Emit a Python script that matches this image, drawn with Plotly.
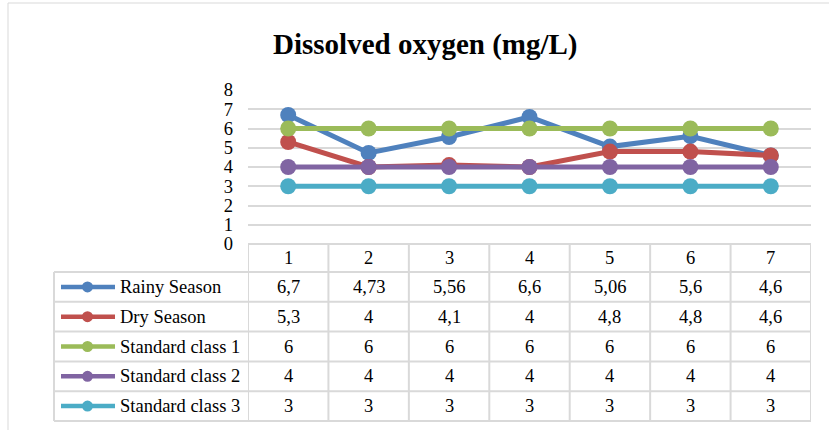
import plotly.graph_objects as go

# ---- data ----
categories = ["1", "2", "3", "4", "5", "6", "7"]
series_names = ["Rainy Season", "Dry Season", "Standard class 1", "Standard class 2", "Standard class 3"]
rainy = [6.7, 4.73, 5.56, 6.6, 5.06, 5.6, 4.6]
dry = [5.3, 4, 4.1, 4, 4.8, 4.8, 4.6]
std1 = [6, 6, 6, 6, 6, 6, 6]
std2 = [4, 4, 4, 4, 4, 4, 4]
std3 = [3, 3, 3, 3, 3, 3, 3]
series_values = [rainy, dry, std1, std2, std3]
colors = ["#4F81BD", "#C0504D", "#9BBB59", "#8064A2", "#4BACC6"]
y_ticks = [0, 1, 2, 3, 4, 5, 6, 7, 8]
title = "Dissolved oxygen (mg/L)"

W, H = 829, 430
FONT = "Liberation Serif, Times New Roman, serif"
GRID = "#d9d9d9"
FS = 18.5

def px(x):
    return x / W

def py(y):
    return 1 - y / H

plot_left, plot_right = 248, 811
plot_top, plot_bottom = 90, 244
header_bottom = 272
row_h = 29.8
table_left = 54

xs = list(range(1, len(categories) + 1))

fig = go.Figure()
for name, vals, col in zip(series_names, series_values, colors):
    fig.add_trace(go.Scatter(
        x=xs, y=vals, mode="lines+markers", name=name,
        line=dict(color=col, width=5),
        marker=dict(color=col, size=16, symbol="circle"),
        showlegend=False, hoverinfo="skip",
    ))

shapes = []
annotations = []

# chart border
shapes.append(dict(type="rect", xref="paper", yref="paper",
                   x0=px(8), x1=1.02, y0=-0.05, y1=py(3),
                   line=dict(color=GRID, width=1), layer="below"))

# table horizontal lines
row_edges = [header_bottom + row_h * i for i in range(len(series_names) + 1)]
shapes.append(dict(type="line", xref="x", yref="paper", x0=0.5, x1=len(categories) + 0.5,
                   y0=py(plot_bottom), y1=py(plot_bottom), line=dict(color=GRID, width=2)))
for ye in row_edges:
    shapes.append(dict(type="line", xref="paper", yref="paper", x0=px(table_left), x1=px(plot_right),
                       y0=py(ye), y1=py(ye), line=dict(color=GRID, width=2)))
# vertical lines
for i in range(len(categories) + 1):
    shapes.append(dict(type="line", xref="x", yref="paper", x0=0.5 + i, x1=0.5 + i,
                       y0=py(plot_bottom), y1=py(row_edges[-1]), line=dict(color=GRID, width=2)))
shapes.append(dict(type="line", xref="paper", yref="paper", x0=px(table_left), x1=px(table_left),
                   y0=py(row_edges[0]), y1=py(row_edges[-1]), line=dict(color=GRID, width=2)))

# header labels
for xv, c in zip(xs, categories):
    annotations.append(dict(x=xv, y=py((plot_bottom + header_bottom) / 2), xref="x", yref="paper",
                            text=c, showarrow=False, xanchor="center", yanchor="middle",
                            font=dict(family=FONT, size=FS, color="#000")))

def fmt(v):
    return f"{v:g}".replace(".", ",")

for r, (name, vals, col) in enumerate(zip(series_names, series_values, colors)):
    yc = row_edges[r] + row_h / 2
    # legend swatch
    shapes.append(dict(type="line", xref="paper", yref="paper", x0=px(61), x1=px(115),
                       y0=py(yc), y1=py(yc), line=dict(color=col, width=4.5)))
    shapes.append(dict(type="circle", xref="paper", yref="paper", x0=px(82), x1=px(93),
                       y0=py(yc + 5.5), y1=py(yc - 5.5), fillcolor=col, line=dict(color=col, width=0)))
    annotations.append(dict(x=px(118), y=py(yc), xref="paper", yref="paper", text=name,
                            showarrow=False, xanchor="left", yanchor="middle",
                            font=dict(family=FONT, size=FS, color="#000")))
    for xv, v in zip(xs, vals):
        annotations.append(dict(x=xv, y=py(yc), xref="x", yref="paper", text=fmt(v),
                                showarrow=False, xanchor="center", yanchor="middle",
                                font=dict(family=FONT, size=FS, color="#000")))

# title
annotations.append(dict(x=px(425), y=py(44), xref="paper", yref="paper",
                        text=f"<b>{title}</b>", showarrow=False, xanchor="center", yanchor="middle",
                        font=dict(family=FONT, size=29, color="#000")))

fig.update_layout(
    width=W, height=H, margin=dict(l=0, r=0, t=0, b=0, pad=0),
    paper_bgcolor="white", plot_bgcolor="white",
    shapes=shapes, annotations=annotations,
    xaxis=dict(domain=[px(plot_left), px(plot_right)], range=[0.5, len(categories) + 0.5],
               showgrid=False, zeroline=False, showticklabels=False, showline=False, automargin=False,
               tickvals=xs, ticktext=categories, fixedrange=True),
    yaxis=dict(domain=[py(plot_bottom), py(plot_top)], range=[0, 8], automargin=False,
               tickvals=y_ticks, ticktext=[str(t) for t in y_ticks],
               showgrid=True, gridcolor=GRID, gridwidth=2, zeroline=False, showline=False,
               ticks="", ticklabelstandoff=14,
               tickfont=dict(family=FONT, size=FS, color="#000"), fixedrange=True),
)

fig.write_html("out.html")
